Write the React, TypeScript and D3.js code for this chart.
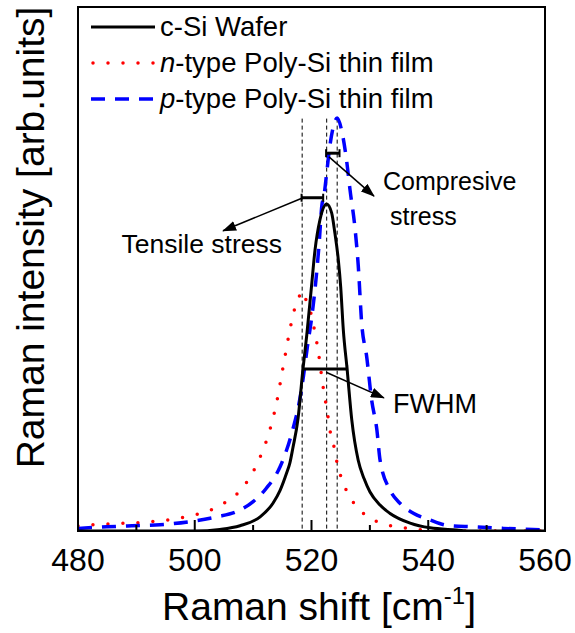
import React from "react";
import * as d3 from "d3";

// ---- data (Raman shift [cm^-1], intensity [arb.units]) ----
const cSiShift = [480, 500.0, 504.3, 507.75, 511.2, 513.4, 514.6, 515.75, 516.3, 516.8, 517.7, 518.5, 519.2, 520.0, 520.6, 521.45, 522.6, 523.45, 524.0, 524.6, 525.0, 525.45, 526.1, 526.9, 528.0, 529.0, 530.0, 531.7, 533.4, 536.9, 540.3, 544.9, 547.15, 560];
const cSiInt = [0, 0, 0.003, 0.010, 0.027, 0.053, 0.077, 0.111, 0.130, 0.158, 0.215, 0.305, 0.375, 0.467, 0.536, 0.594, 0.624, 0.607, 0.569, 0.517, 0.466, 0.384, 0.309, 0.212, 0.135, 0.100, 0.075, 0.050, 0.034, 0.015, 0.006, 0.002, 0, 0];

const nShift = [480, 482.05, 487.5, 490.45, 493.5, 496.1, 498.85, 501.75, 504.7, 508.1, 510.0, 511.45, 512.6, 514.0, 515.15, 516.3, 516.9, 518.0, 518.4, 518.9, 519.6, 520.3, 520.9, 521.35, 521.75, 522.15, 522.7, 523.15, 523.85, 524.4, 525.35, 526.9, 529.15, 531.4, 534.6, 537.45, 540.3, 543.2, 560];
const nInt = [0.0095, 0.0115, 0.0147, 0.0158, 0.019, 0.022, 0.028, 0.036, 0.051, 0.081, 0.113, 0.148, 0.183, 0.244, 0.314, 0.384, 0.415, 0.450, 0.458, 0.445, 0.428, 0.395, 0.360, 0.328, 0.294, 0.263, 0.228, 0.193, 0.161, 0.129, 0.094, 0.059, 0.031, 0.017, 0.008, 0.004, 0.001, 0, 0];

const pShift = [480, 484.9, 489.2, 494.05, 499.2, 503.75, 507.2, 510.0, 512.3, 514.6, 515.75, 516.9, 517.75, 518.6, 519.3, 520.05, 520.9, 521.35, 521.75, 522.15, 522.6, 523.05, 523.75, 524.4, 525.15, 526.0, 526.6, 527.45, 528.0, 528.6, 529.45, 530.3, 531.2, 531.75, 533.45, 535.15, 537.45, 540.3, 543.15, 547.7, 552.85, 557.95, 560];
const pInt = [0.005, 0.008, 0.010, 0.012, 0.018, 0.027, 0.037, 0.056, 0.082, 0.122, 0.155, 0.198, 0.237, 0.294, 0.352, 0.409, 0.495, 0.555, 0.619, 0.641, 0.683, 0.727, 0.772, 0.788, 0.765, 0.708, 0.651, 0.578, 0.508, 0.396, 0.333, 0.250, 0.193, 0.135, 0.078, 0.053, 0.034, 0.021, 0.011, 0.008, 0.005, 0.003, 0.002];

const xTickLabels = [480, 500, 520, 540, 560];
const xMinorTicks = [490, 510, 530, 550];
const legendLabels = ["c-Si Wafer", "n-type Poly-Si thin film", "p-type Poly-Si thin film"];

// reference peak positions (dashed guides)
const peakGuides = [518.4, 522.6, 524.4];
const guideTop = 0.787;

const W = 575, H = 633;
const left = 78, right = 545, top = 7, bottom = 531;

export default function App() {
  const x = d3.scaleLinear().domain([480, 560]).range([left, right]);
  const y = d3.scaleLinear().domain([0, 1]).range([bottom, top]);
  const line = d3
    .line<[number, number]>()
    .x((d) => x(d[0]))
    .y((d) => y(d[1]))
    .curve(d3.curveMonotoneX);

  const zip = (a: number[], b: number[]) => a.map((v, i) => [v, b[i]] as [number, number]);
  const cSi = zip(cSiShift, cSiInt);
  const nT = zip(nShift, nInt);
  const pT = zip(pShift, pInt);

  const font = "'Liberation Sans', Arial, sans-serif";

  const bar = (x1: number, x2: number, yy: number, key: string) => (
    <g key={key}>
      <line x1={x(x1)} x2={x(x2)} y1={y(yy)} y2={y(yy)} stroke="#000" strokeWidth={3} />
      <line x1={x(x1)} x2={x(x1)} y1={y(yy) - 4} y2={y(yy) + 4} stroke="#000" strokeWidth={2} />
      <line x1={x(x2)} x2={x(x2)} y1={y(yy) - 4} y2={y(yy) + 4} stroke="#000" strokeWidth={2} />
    </g>
  );

  const arrow = (x1: number, y1: number, x2: number, y2: number, key: string) => (
    <line key={key} x1={x(x1)} y1={y(y1)} x2={x(x2)} y2={y(y2)} stroke="#000" strokeWidth={1.5} markerEnd="url(#arrowHead)" />
  );

  return (
    <svg width={W} height={H} style={{ position: "absolute", left: 0, top: 0, background: "#fff" }} fontFamily={font}>
      <defs>
        <marker id="arrowHead" viewBox="0 0 14 10" refX="13" refY="5" markerWidth="14" markerHeight="10" markerUnits="userSpaceOnUse" orient="auto">
          <path d="M0,0 L14,5 L0,10 z" fill="#000" />
        </marker>
        <clipPath id="plotClip">
          <rect x={left} y={top} width={right - left} height={bottom - top} />
        </clipPath>
      </defs>
      <rect x={0} y={0} width={W} height={H} fill="#fff" />

      {/* dashed guides */}
      {peakGuides.map((g, i) => (
        <line key={"g" + i} x1={x(g)} x2={x(g)} y1={y(guideTop)} y2={bottom} stroke="#000" strokeWidth={1} strokeDasharray="4,3" />
      ))}

      <g clipPath="url(#plotClip)">
        <path d={line(nT) || ""} fill="none" stroke="#ff0000" strokeWidth={3.5} strokeLinecap="round" strokeDasharray="0 15" />
        <path d={line(pT) || ""} fill="none" stroke="#0000ff" strokeWidth={3.5} strokeDasharray="14 10" />
        <path d={line(cSi) || ""} fill="none" stroke="#000" strokeWidth={3} />
      </g>

      {/* annotations */}
      {bar(518.3, 522.0, 0.636, "tensile")}
      {bar(522.5, 524.8, 0.721, "comp")}
      {bar(518.5, 526.1, 0.309, "fwhm")}
      {arrow(518.55, 0.636, 504.85, 0.573, "a1")}
      {arrow(523.0, 0.714, 530.7, 0.639, "a2")}
      {arrow(522.5, 0.303, 532.4, 0.254, "a3")}
      <text x={x(487.45)} y={y(0.5305)} fontSize={26.5}>Tensile stress</text>
      <text x={x(532.25)} y={y(0.651)} fontSize={25}>Compresive</text>
      <text x={x(533.45)} y={y(0.584)} fontSize={25}>stress</text>
      <text x={x(533.95)} y={y(0.226)} fontSize={27}>FWHM</text>

      {/* frame */}
      <rect x={left} y={top} width={right - left} height={bottom - top} fill="none" stroke="#000" strokeWidth={2} />

      {/* x ticks (inward) */}
      {xTickLabels.map((t) => (
        <line key={"M" + t} x1={x(t)} x2={x(t)} y1={bottom} y2={bottom - 11} stroke="#000" strokeWidth={2} />
      ))}
      {xMinorTicks.map((t) => (
        <line key={"m" + t} x1={x(t)} x2={x(t)} y1={bottom} y2={bottom - 6} stroke="#000" strokeWidth={2} />
      ))}
      {xTickLabels.map((t) => (
        <text key={"l" + t} x={x(t)} y={571} fontSize={32} textAnchor="middle">{t}</text>
      ))}

      {/* axis titles */}
      <text x={319} y={620} fontSize={39} textAnchor="middle">
        Raman shift [cm<tspan fontSize={24} dy={-16}>-1</tspan><tspan dy={16}>]</tspan>
      </text>
      <text transform={`translate(44,${237.5}) rotate(-90)`} fontSize={39} textAnchor="middle">
        Raman intensity [arb.units]
      </text>

      {/* legend */}
      <line x1={91} x2={155} y1={27} y2={27} stroke="#000" strokeWidth={3} />
      <line x1={93} x2={155} y1={63} y2={63} stroke="#ff0000" strokeWidth={3.5} strokeLinecap="round" strokeDasharray="0 15" />
      <line x1={91} x2={157} y1={99} y2={99} stroke="#0000ff" strokeWidth={3.5} strokeDasharray="14 10" />
      <text x={160} y={36} fontSize={27.5}>{legendLabels[0]}</text>
      <text x={160} y={72} fontSize={27.5}>
        <tspan fontStyle="italic">{legendLabels[1].slice(0, 1)}</tspan>{legendLabels[1].slice(1)}
      </text>
      <text x={160} y={108} fontSize={27.5}>
        <tspan fontStyle="italic">{legendLabels[2].slice(0, 1)}</tspan>{legendLabels[2].slice(1)}
      </text>
    </svg>
  );
}
